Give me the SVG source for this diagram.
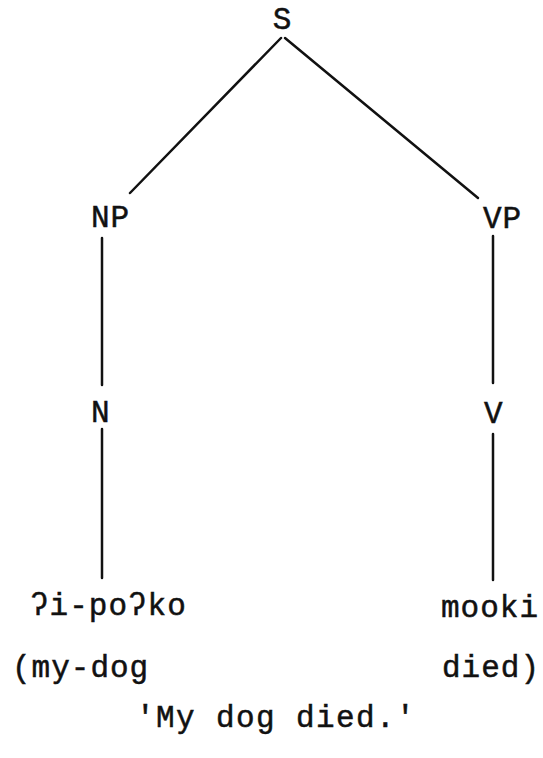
<svg xmlns="http://www.w3.org/2000/svg" width="543" height="758" viewBox="0 0 543 758">
<style>
text{font-family:"Liberation Mono","DejaVu Sans Mono",monospace;font-size:31px;fill:#111;stroke:#111;stroke-width:0.5;letter-spacing:1px}
.c{text-anchor:middle;letter-spacing:0}
.b{letter-spacing:1.4px}
line{stroke:#111;stroke-width:2.5;fill:none;stroke-linecap:round}
</style>
<rect width="543" height="758" fill="#fff"/>
<g id="connectors">
<line x1="281" y1="38" x2="130" y2="193"/>
<line x1="285" y1="38" x2="478" y2="198"/>
<line x1="102" y1="238" x2="102" y2="385"/>
<line x1="493" y1="236" x2="493" y2="383"/>
<line x1="102" y1="429" x2="102" y2="578"/>
<line x1="493" y1="434" x2="493" y2="580"/>
</g>
<g id="S"><text class="c" x="282" y="29">S</text></g>
<g id="NP"><text x="91" y="227">NP</text></g>
<g id="VP"><text x="483" y="228">VP</text></g>
<g id="N"><text x="91" y="422">N</text></g>
<g id="V"><text x="484" y="423">V</text></g>
<g id="w1"><text x="30" y="615">ʔi-poʔko</text></g>
<g id="w2"><text x="441" y="617">mooki</text></g>
<g id="g1"><text x="12" y="677">(my-dog</text></g>
<g id="g2"><text x="442" y="677">died)</text></g>
<g id="tr"><text class="b" x="136" y="727">'My dog died.'</text></g>
</svg>
